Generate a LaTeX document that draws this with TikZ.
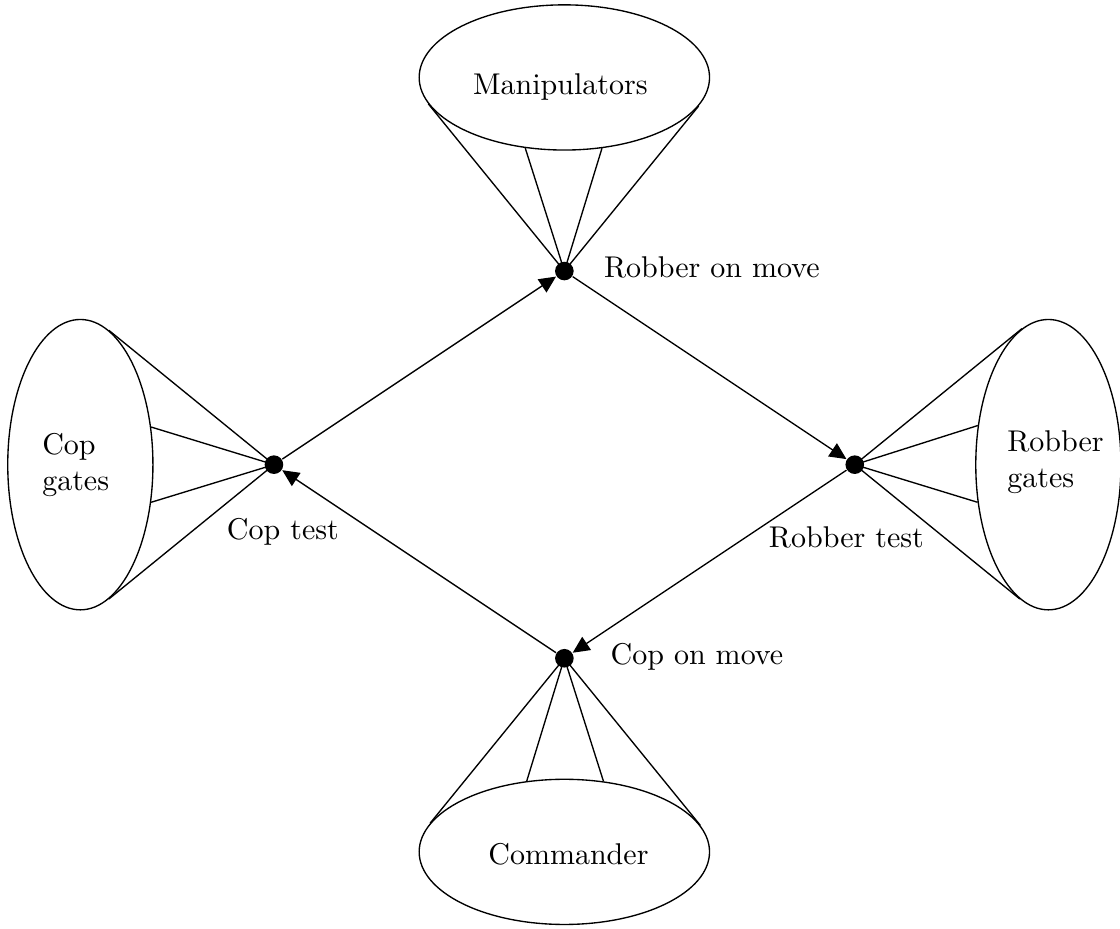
\documentclass[tikz,border=0pt]{standalone}
\usetikzlibrary{arrows.meta,shapes.geometric}
\begin{document}
\begin{tikzpicture}[x=1.1335cm,y=1.1335cm,line width=0.45pt,
  every node/.style={font=\fontsize{10}{12}\selectfont},
  dot/.style={circle,fill=black,inner sep=0pt,minimum size=6.2pt},
  gate/.style={ellipse,draw,inner sep=0pt},
  hgate/.style={gate,minimum width=3.4cm,minimum height=1.7cm},
  vgate/.style={gate,minimum width=1.7cm,minimum height=3.4cm},
  flow/.style={-{Triangle[length=5.6pt,width=5.2pt]}},
  lbl/.style={inner sep=0pt,anchor=base west},
  glbl/.style={inner sep=0pt,anchor=west,align=left},
]
\useasboundingbox (-5.83,-4.787) rectangle (5.74,4.80);

% gate ellipses
\node[hgate] (man) at (0,4) {};
\node[hgate] (com) at (0,-4) {};
\node[vgate] (cg) at (-5,0) {};
\node[vgate] (rg) at (5,0) {};

% state dots
\node[dot] (rm) at (0,2) {};
\node[dot] (ct) at (-3,0) {};
\node[dot] (rt) at (3,0) {};
\node[dot] (cm) at (0,-2) {};

% fans
\draw (rm.center) -- (man.191.43);
\draw (rm.center) -- (man.241.83);
\draw (rm.center) -- (man.298.17);
\draw (rm.center) -- (man.348.57);

\draw (cm.center) -- (com.11.43);
\draw (cm.center) -- (com.61.83);
\draw (cm.center) -- (com.118.17);
\draw (cm.center) -- (com.168.57);

\draw (ct.center) -- (cg.78.57);
\draw (ct.center) -- (cg.28.17);
\draw (ct.center) -- (cg.-28.17);
\draw (ct.center) -- (cg.-78.57);

\draw (rt.center) -- (rg.101.43);
\draw (rt.center) -- (rg.151.83);
\draw (rt.center) -- (rg.208.17);
\draw (rt.center) -- (rg.258.57);

% cycle
\draw[flow] (ct) -- (rm);
\draw[flow] (rm) -- (rt);
\draw[flow] (rt) -- (cm);
\draw[flow] (cm) -- (ct);

% labels
\node[lbl] at (0.403,1.932) {Robber on move};
\node[lbl] at (-3.492,-0.775) {Cop test};
\node[lbl] at (2.107,-0.857) {Robber test};
\node[lbl] at (0.472,-2.066) {Cop on move};
\node[lbl] at (-0.950,3.822) {Manipulators};
\node[lbl] at (-0.792,-4.132) {Commander};
\node[glbl] at (-5.40,0) {Cop\\gates};
\node[glbl] at (4.569,0.026) {Robber\\gates};
\end{tikzpicture}
\end{document}
